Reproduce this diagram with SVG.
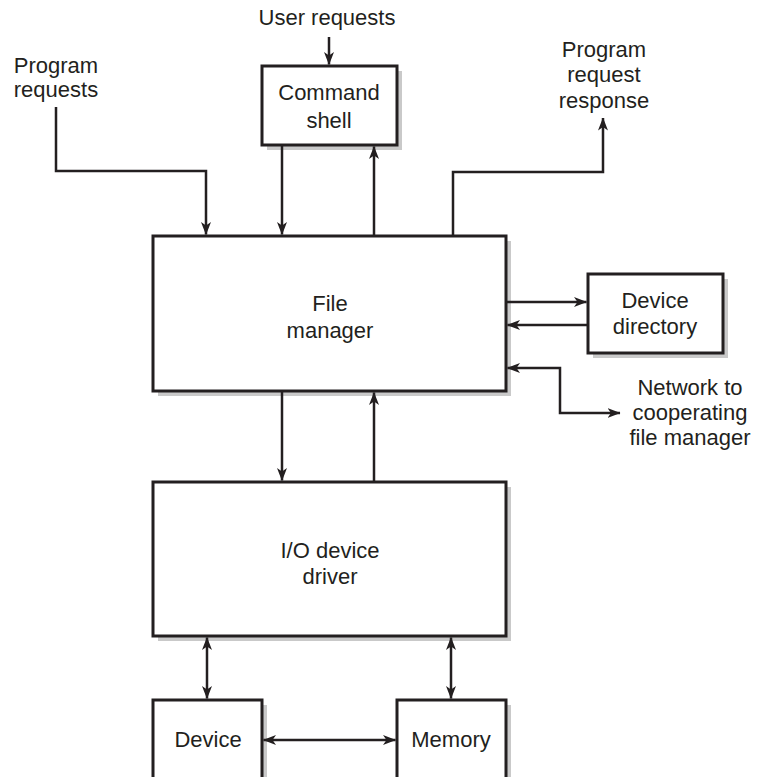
<svg xmlns="http://www.w3.org/2000/svg" width="759" height="777" viewBox="0 0 759 777">
<defs>
<style>
.box{fill:#fff;stroke:#231f20;stroke-width:3}
.shadow{fill:#c9c9c9}
.lbl{font-family:"Liberation Sans",Arial,sans-serif;font-size:22px;fill:#231f20;text-anchor:middle}
.con path{fill:none;stroke:#231f20;stroke-width:2.5}
.arr{marker-end:url(#ah)}
.bi{marker-end:url(#ah);marker-start:url(#ahs)}
</style>
<marker id="ah" viewBox="0 0 13 10" refX="12.5" refY="5" markerWidth="13" markerHeight="10" markerUnits="userSpaceOnUse" orient="auto">
<path d="M0,0 L13,5 L0,10 L3.5,5 z" fill="#231f20"/>
</marker>
<marker id="ahs" viewBox="0 0 13 10" refX="12.5" refY="5" markerWidth="13" markerHeight="10" markerUnits="userSpaceOnUse" orient="auto-start-reverse">
<path d="M0,0 L13,5 L0,10 L3.5,5 z" fill="#231f20"/>
</marker>
</defs>
<rect width="759" height="777" fill="#fff"/>

<text class="lbl" x="327" y="25">User requests</text>
<text class="lbl" x="56" y="73">Program</text>
<text class="lbl" x="56" y="97">requests</text>
<text class="lbl" x="604" y="57">Program</text>
<text class="lbl" x="604" y="82">request</text>
<text class="lbl" x="604" y="108">response</text>
<text class="lbl" x="690" y="395">Network to</text>
<text class="lbl" x="690" y="420">cooperating</text>
<text class="lbl" x="690" y="445">file manager</text>

<g id="command-shell">
<rect class="shadow" x="267" y="71" width="135" height="79"/>
<rect class="box" x="262" y="66" width="135" height="79"/>
<text class="lbl" x="329" y="100">Command</text>
<text class="lbl" x="329" y="128">shell</text>
</g>
<g id="file-manager">
<rect class="shadow" x="158" y="241" width="353" height="155"/>
<rect class="box" x="153" y="236" width="353" height="155"/>
<text class="lbl" x="330" y="311">File</text>
<text class="lbl" x="330" y="338">manager</text>
</g>
<g id="device-directory">
<rect class="shadow" x="593" y="279" width="135" height="79"/>
<rect class="box" x="588" y="274" width="135" height="79"/>
<text class="lbl" x="655" y="308">Device</text>
<text class="lbl" x="655" y="334">directory</text>
</g>
<g id="io-device-driver">
<rect class="shadow" x="158" y="487" width="353" height="154"/>
<rect class="box" x="153" y="482" width="353" height="154"/>
<text class="lbl" x="330" y="558">I/O device</text>
<text class="lbl" x="330" y="584">driver</text>
</g>
<g id="device">
<rect class="shadow" x="158" y="705" width="109" height="100"/>
<rect class="box" x="153" y="700" width="109" height="100"/>
<text class="lbl" x="208" y="747">Device</text>
</g>
<g id="memory">
<rect class="shadow" x="402" y="705" width="109" height="100"/>
<rect class="box" x="397" y="700" width="109" height="100"/>
<text class="lbl" x="451" y="747">Memory</text>
</g>

<g id="connectors" class="con">
<path class="arr" d="M329,37 V64.5"/>
<path class="arr" d="M56,107 V171 H206 V234.5"/>
<path class="arr" d="M282,145 V234.5"/>
<path class="arr" d="M374,236 V146.5"/>
<path class="arr" d="M453,236 V172 H603 V118"/>
<path class="arr" d="M506,302 H586.5"/>
<path class="arr" d="M588,325 H507.5"/>
<path class="bi" d="M620,413 H560 V368 H507.5"/>
<path class="arr" d="M282,391 V480.5"/>
<path class="arr" d="M374,482 V392.5"/>
<path class="bi" d="M207,637.5 V698.5"/>
<path class="bi" d="M451,637.5 V698.5"/>
<path class="bi" d="M263.5,740 H395.5"/>
</g>
</svg>
